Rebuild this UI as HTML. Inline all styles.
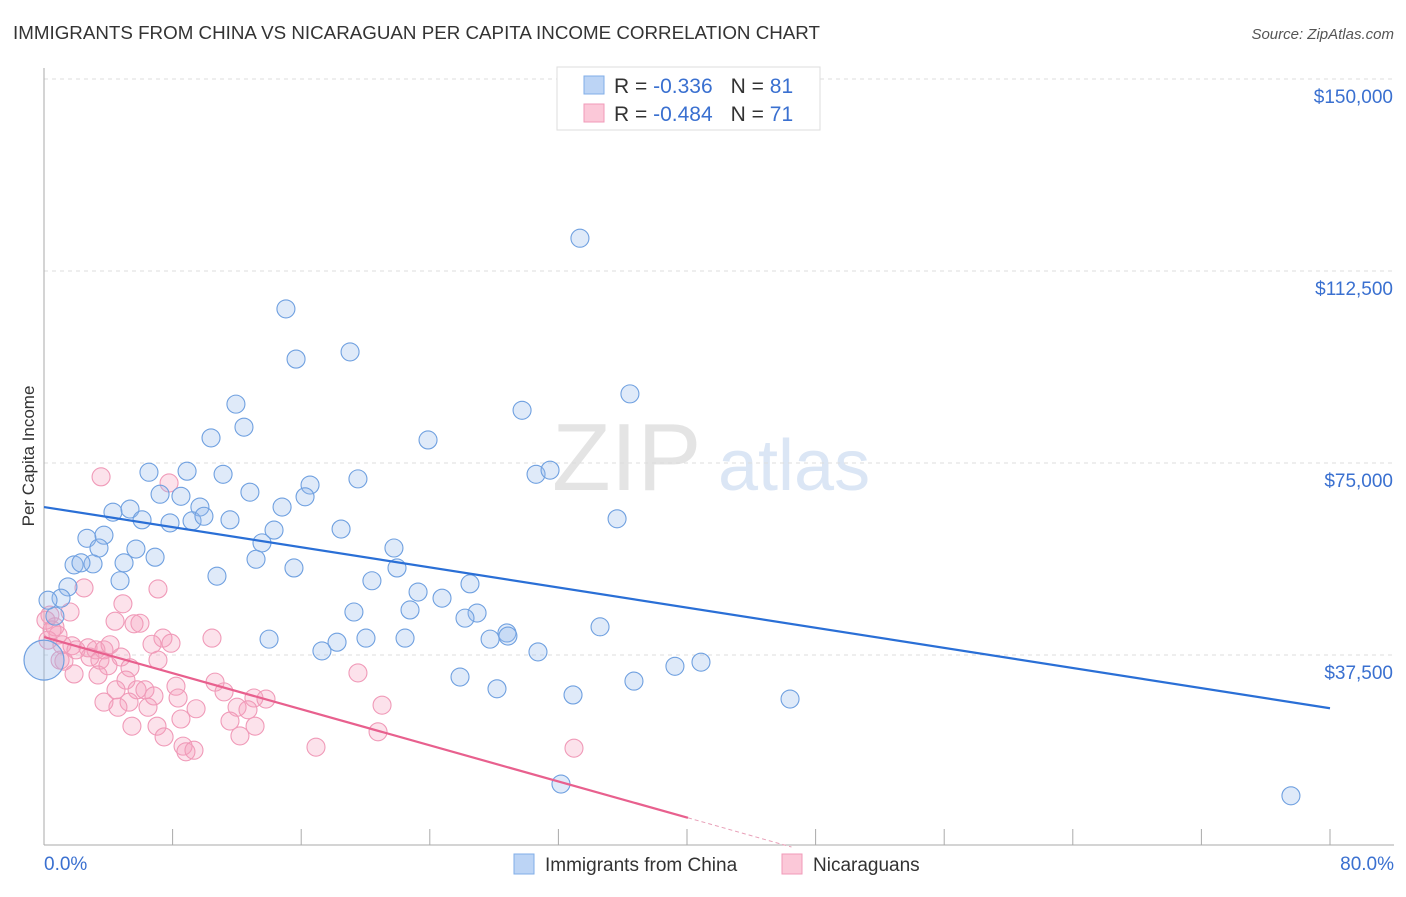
<!DOCTYPE html>
<html><head><meta charset="utf-8"><style>
body{margin:0;background:#fff;font-family:"Liberation Sans",sans-serif;}
svg text{font-family:"Liberation Sans",sans-serif;}
</style></head><body>
<svg id="chart" width="1406" height="892" xmlns="http://www.w3.org/2000/svg">
<text x="13" y="39" font-size="18" fill="#333" textLength="807" lengthAdjust="spacingAndGlyphs">IMMIGRANTS FROM CHINA VS NICARAGUAN PER CAPITA INCOME CORRELATION CHART</text>
<text x="1394" y="39" font-size="15" fill="#555" text-anchor="end" font-style="italic">Source: ZipAtlas.com</text>
<text x="552" y="490" font-size="96" fill="#e4e4e4" font-family="Liberation Serif">ZIP</text>
<text x="718" y="490" font-size="72" fill="#dbe6f5">atlas</text>
<text transform="translate(34,456) rotate(-90)" font-size="17" fill="#333" text-anchor="middle">Per Capita Income</text>
<g id="grid"></g><g id="pts"></g><g id="lines"></g>
<g>
<rect x="557" y="67" width="263" height="63" fill="#fff" stroke="#ddd"/>
<rect x="584" y="76" width="20" height="18" fill="#bcd4f5" stroke="#80aee8"/>
<rect x="584" y="104" width="20" height="18" fill="#fbc8d8" stroke="#f09ab8"/>
<text x="614" y="93" font-size="21" fill="#333">R = <tspan fill="#3a70d0">-0.336</tspan><tspan dx="18">N = </tspan><tspan fill="#3a70d0">81</tspan></text>
<text x="614" y="121" font-size="21" fill="#333">R = <tspan fill="#3a70d0">-0.484</tspan><tspan dx="18">N = </tspan><tspan fill="#3a70d0">71</tspan></text>
</g>
<g>
<rect x="514" y="854" width="20" height="20" fill="#bcd4f5" stroke="#80aee8"/>
<text x="545" y="871" font-size="19" fill="#333">Immigrants from China</text>
<rect x="782" y="854" width="20" height="20" fill="#fbc8d8" stroke="#f09ab8"/>
<text x="813" y="871" font-size="19" fill="#333">Nicaraguans</text>
</g>
</svg>
<script>
const yTicks=[37.5,75,112.5,150];
const yTickLabels=["$37,500","$75,000","$112,500","$150,000"];
const xEnds=["0.0%","80.0%"];
const blueX=[33.34,15.05,15.68,19.04,36.45,11.94,29.74,12.44,10.39,23.89,6.53,8.90,11.14,19.53,30.61,31.48,16.55,12.81,7.22,8.52,9.70,16.24,4.29,5.35,6.10,9.21,9.95,11.57,7.84,14.81,35.65,14.31,18.48,3.73,2.67,3.42,5.72,13.56,21.77,6.91,13.19,1.87,3.05,2.30,4.98,15.55,21.96,10.76,4.73,20.40,26.50,1.49,23.27,1.06,24.76,0.68,19.28,22.77,26.94,26.19,34.59,14.00,18.23,20.03,22.46,27.75,28.80,28.86,30.73,17.29,40.87,39.25,25.88,36.70,28.18,32.91,46.41,32.16,77.57,0.25];
const blueY=[118.9,105.1,95.3,96.7,88.5,86.5,85.3,82.0,79.9,79.5,73.2,73.4,72.8,71.9,72.8,73.6,70.7,69.3,68.9,68.5,66.4,68.4,65.4,66.0,63.9,63.7,64.6,63.9,63.3,66.4,64.1,61.9,62.1,60.9,60.3,58.4,58.2,59.4,58.4,56.6,56.2,55.1,55.3,55.5,55.5,54.5,54.5,52.9,52.0,52.0,51.4,50.8,49.8,48.6,48.6,45.1,45.9,46.3,45.7,44.7,43.0,40.6,40.0,40.8,40.8,40.6,41.8,41.2,38.1,38.3,36.1,35.3,33.2,32.4,30.9,29.7,28.9,12.3,10.0,48.2];
const pinkX=[3.55,7.78,2.49,7.09,1.62,4.91,0.37,0.68,0.87,0.25,5.97,5.60,4.42,1.12,1.74,2.74,3.23,3.73,4.11,7.40,10.45,7.90,6.72,1.99,2.86,3.48,4.79,1.24,3.98,5.35,7.09,19.53,1.87,3.36,5.10,10.64,8.21,4.48,5.79,6.28,6.84,8.34,11.20,13.06,13.81,3.73,5.29,4.60,6.47,9.46,12.01,12.69,21.03,8.52,11.57,5.47,7.03,13.13,7.47,12.19,20.78,8.65,8.83,9.33,16.92,32.97,0.12,0.50,1.00];
const pinkY=[72.3,71.1,50.6,50.4,45.9,47.5,45.3,43.0,41.4,40.4,43.7,43.6,44.1,39.5,39.3,38.9,38.5,38.5,39.5,40.8,40.8,39.8,39.6,38.5,37.1,36.5,37.1,36.3,35.4,35.0,36.5,34.0,33.8,33.6,32.6,32.2,31.4,30.7,30.7,30.7,29.5,29.1,30.3,29.1,28.9,28.3,28.3,27.3,27.3,27.0,27.3,26.8,27.7,25.0,24.6,23.6,23.6,23.6,21.5,21.7,22.5,19.7,18.6,18.9,19.5,19.3,44.3,42.4,36.5];
const bigBlue=[0.0,36.5];
const blueTrend=[[0,66.4],[80,27.1]];
const pinkTrend=[[0,41.0],[40.06,5.7],[46.5,0]];
const NS="http://www.w3.org/2000/svg";
const X=v=>44+v*16.075, Y=v=>847-v*5.12;
function mk(p,t,a){const e=document.createElementNS(NS,t);for(const k in a)e.setAttribute(k,a[k]);p.appendChild(e);return e;}
const grid=document.getElementById('grid');
yTicks.forEach((t,i)=>{
 const l=mk(grid,'line',{x1:44,x2:1394,y1:Y(t),y2:Y(t),stroke:'#ddd','stroke-dasharray':'4,4'});
 
 
 const tx=mk(grid,'text',{x:1393,y:Y(t)+24,'font-size':19,fill:'#3a70d0','text-anchor':'end'});
 tx.textContent=yTickLabels[i];
 
 
});
const ax=mk(grid,'line',{x1:44,x2:44,y1:68,y2:845,stroke:'#aaa'});


const bx=mk(grid,'line',{x1:44,x2:1394,y1:845,y2:845,stroke:'#aaa'});


for(let i=1;i<=10;i++){const t=mk(grid,'line',{x1:X(i*8),x2:X(i*8),y1:829,y2:845,stroke:'#aaa'});
 
 }
[[0,'start',44],[1,'end',1394]].forEach(([i,a,x])=>{const t=mk(grid,'text',{x:x,y:870,'font-size':19,fill:'#3a70d0','text-anchor':a});t.textContent=xEnds[i];
 
 });
const pts=document.getElementById('pts');
pinkX.forEach((x,i)=>{const c=mk(pts,'circle',{cx:X(x),cy:Y(pinkY[i]),r:9,fill:'rgba(245,160,190,0.3)',stroke:'#f09ab8','stroke-width':1.1});
 
 });
blueX.forEach((x,i)=>{const c=mk(pts,'circle',{cx:X(x),cy:Y(blueY[i]),r:9,fill:'rgba(150,185,235,0.3)',stroke:'#6fa0e0','stroke-width':1.1});
 
 });
const bb=mk(pts,'circle',{cx:X(bigBlue[0]),cy:Y(bigBlue[1]),r:20,fill:'rgba(150,185,235,0.35)',stroke:'#6fa0e0','stroke-width':1.2});


const lines=document.getElementById('lines');
const bl=mk(lines,'line',{x1:X(blueTrend[0][0]),y1:Y(blueTrend[0][1]),x2:X(blueTrend[1][0]),y2:Y(blueTrend[1][1]),stroke:'#2a6fd6','stroke-width':2.2});


const pl=mk(lines,'line',{x1:X(pinkTrend[0][0]),y1:Y(pinkTrend[0][1]),x2:X(pinkTrend[1][0]),y2:Y(pinkTrend[1][1]),stroke:'#e8608e','stroke-width':2.2});


const pd=mk(lines,'line',{x1:X(pinkTrend[1][0]),y1:Y(pinkTrend[1][1]),x2:X(pinkTrend[2][0]),y2:Y(pinkTrend[2][1]),stroke:'#e8a0b8','stroke-width':1,'stroke-dasharray':'4,3'});


</script>
</body></html>
